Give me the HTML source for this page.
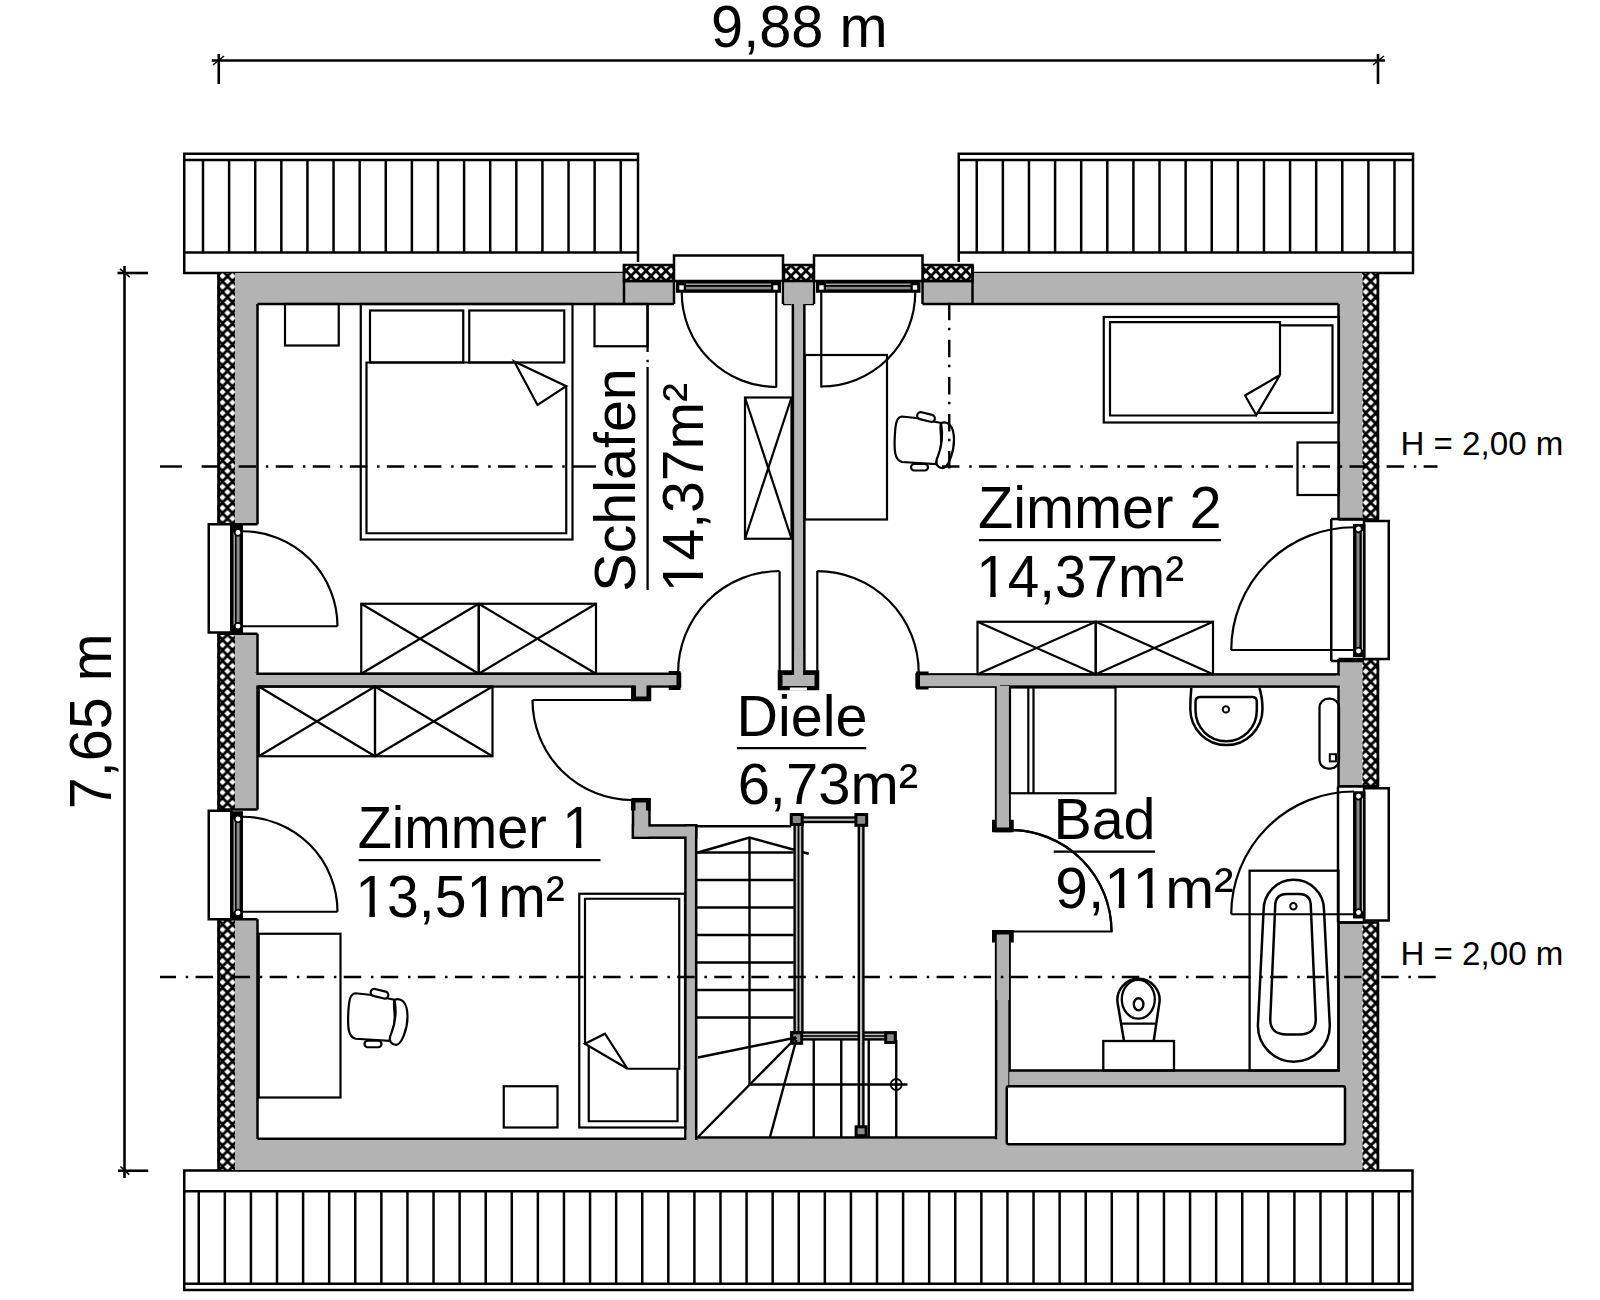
<!DOCTYPE html>
<html><head><meta charset="utf-8"><style>
html,body{margin:0;padding:0;background:#fff;width:1600px;height:1300px;overflow:hidden}
svg{display:block}
text{font-family:"Liberation Sans",sans-serif;fill:#000;stroke:none}
</style></head><body>
<svg width="1600" height="1300" viewBox="0 0 1600 1300" stroke="#000" fill="none" stroke-linecap="butt">
<defs>
<pattern id="hatch" patternUnits="userSpaceOnUse" x="222.5" y="265.5" width="10" height="10.54">
<rect width="10" height="10.54" fill="#000" stroke="none"/>
<path d="M5,2.07 L8.15,5.27 L5,8.47 L1.85,5.27 Z M0,-3.20 L3.15,0 L0,3.20 L-3.15,0 Z M10,-3.20 L13.15,0 L10,3.20 L6.85,0 Z M0,7.34 L3.15,10.54 L0,13.74 L-3.15,10.54 Z M10,7.34 L13.15,10.54 L10,13.74 L6.85,10.54 Z" fill="#fff" stroke="none"/>
</pattern>
<pattern id="hatchR" patternUnits="userSpaceOnUse" x="1370.7" y="265.5" width="10" height="10.54">
<rect width="10" height="10.54" fill="#000" stroke="none"/>
<path d="M5,2.07 L8.15,5.27 L5,8.47 L1.85,5.27 Z M0,-3.20 L3.15,0 L0,3.20 L-3.15,0 Z M10,-3.20 L13.15,0 L10,3.20 L6.85,0 Z M0,7.34 L3.15,10.54 L0,13.74 L-3.15,10.54 Z M10,7.34 L13.15,10.54 L10,13.74 L6.85,10.54 Z" fill="#fff" stroke="none"/>
</pattern>
<pattern id="hatchT" patternUnits="userSpaceOnUse" x="626" y="265.5" width="10" height="10.54">
<rect width="10" height="10.54" fill="#000" stroke="none"/>
<path d="M5,2.07 L8.15,5.27 L5,8.47 L1.85,5.27 Z M0,-3.20 L3.15,0 L0,3.20 L-3.15,0 Z M10,-3.20 L13.15,0 L10,3.20 L6.85,0 Z M0,7.34 L3.15,10.54 L0,13.74 L-3.15,10.54 Z M10,7.34 L13.15,10.54 L10,13.74 L6.85,10.54 Z" fill="#fff" stroke="none"/>
</pattern>
</defs>
<line x1="211.75" y1="60.5" x2="1385" y2="60.5" stroke-width="2.6" />
<line x1="218.75" y1="54" x2="218.75" y2="84" stroke-width="2.6" />
<line x1="1378" y1="54" x2="1378" y2="84" stroke-width="2.6" />
<line x1="213" y1="65" x2="224" y2="56" stroke-width="1.6" />
<line x1="1373" y1="65" x2="1384" y2="56" stroke-width="1.6" />
<line x1="124.5" y1="266" x2="124.5" y2="1178" stroke-width="2.6" />
<line x1="117.5" y1="273" x2="148" y2="273" stroke-width="2.6" />
<line x1="118" y1="1170.75" x2="148.25" y2="1170.75" stroke-width="2.6" />
<line x1="120" y1="268.8" x2="129.75" y2="277.1" stroke-width="1.6" />
<line x1="120.4" y1="1166.5" x2="129.2" y2="1174.6" stroke-width="1.6" />
<rect x="184.25" y="153.75" width="453.75" height="119.25" fill="#fff" stroke-width="2.5" />
<line x1="184.25" y1="160" x2="638" y2="160" stroke-width="2.5" />
<line x1="184.25" y1="252.5" x2="638" y2="252.5" stroke-width="2.5" />
<line x1="203.0" y1="160" x2="203.0" y2="252.5" stroke-width="2.5" />
<line x1="229.11" y1="160" x2="229.11" y2="252.5" stroke-width="2.5" />
<line x1="255.22" y1="160" x2="255.22" y2="252.5" stroke-width="2.5" />
<line x1="281.33" y1="160" x2="281.33" y2="252.5" stroke-width="2.5" />
<line x1="307.44" y1="160" x2="307.44" y2="252.5" stroke-width="2.5" />
<line x1="333.55" y1="160" x2="333.55" y2="252.5" stroke-width="2.5" />
<line x1="359.65999999999997" y1="160" x2="359.65999999999997" y2="252.5" stroke-width="2.5" />
<line x1="385.77" y1="160" x2="385.77" y2="252.5" stroke-width="2.5" />
<line x1="411.88" y1="160" x2="411.88" y2="252.5" stroke-width="2.5" />
<line x1="437.99" y1="160" x2="437.99" y2="252.5" stroke-width="2.5" />
<line x1="464.1" y1="160" x2="464.1" y2="252.5" stroke-width="2.5" />
<line x1="490.21" y1="160" x2="490.21" y2="252.5" stroke-width="2.5" />
<line x1="516.3199999999999" y1="160" x2="516.3199999999999" y2="252.5" stroke-width="2.5" />
<line x1="542.4300000000001" y1="160" x2="542.4300000000001" y2="252.5" stroke-width="2.5" />
<line x1="568.54" y1="160" x2="568.54" y2="252.5" stroke-width="2.5" />
<line x1="594.65" y1="160" x2="594.65" y2="252.5" stroke-width="2.5" />
<line x1="620.76" y1="160" x2="620.76" y2="252.5" stroke-width="2.5" />
<rect x="958.75" y="153.75" width="454.25" height="119.25" fill="#fff" stroke-width="2.5" />
<line x1="958.75" y1="160" x2="1413" y2="160" stroke-width="2.5" />
<line x1="958.75" y1="252.5" x2="1413" y2="252.5" stroke-width="2.5" />
<line x1="976.75" y1="160" x2="976.75" y2="252.5" stroke-width="2.5" />
<line x1="1002.86" y1="160" x2="1002.86" y2="252.5" stroke-width="2.5" />
<line x1="1028.97" y1="160" x2="1028.97" y2="252.5" stroke-width="2.5" />
<line x1="1055.08" y1="160" x2="1055.08" y2="252.5" stroke-width="2.5" />
<line x1="1081.19" y1="160" x2="1081.19" y2="252.5" stroke-width="2.5" />
<line x1="1107.3" y1="160" x2="1107.3" y2="252.5" stroke-width="2.5" />
<line x1="1133.41" y1="160" x2="1133.41" y2="252.5" stroke-width="2.5" />
<line x1="1159.52" y1="160" x2="1159.52" y2="252.5" stroke-width="2.5" />
<line x1="1185.63" y1="160" x2="1185.63" y2="252.5" stroke-width="2.5" />
<line x1="1211.74" y1="160" x2="1211.74" y2="252.5" stroke-width="2.5" />
<line x1="1237.85" y1="160" x2="1237.85" y2="252.5" stroke-width="2.5" />
<line x1="1263.96" y1="160" x2="1263.96" y2="252.5" stroke-width="2.5" />
<line x1="1290.07" y1="160" x2="1290.07" y2="252.5" stroke-width="2.5" />
<line x1="1316.18" y1="160" x2="1316.18" y2="252.5" stroke-width="2.5" />
<line x1="1342.29" y1="160" x2="1342.29" y2="252.5" stroke-width="2.5" />
<line x1="1368.4" y1="160" x2="1368.4" y2="252.5" stroke-width="2.5" />
<line x1="1394.51" y1="160" x2="1394.51" y2="252.5" stroke-width="2.5" />
<rect x="184.25" y="1170.5" width="1228.25" height="119.50" fill="#fff" stroke-width="2.5" />
<line x1="184.25" y1="1191.25" x2="1412.5" y2="1191.25" stroke-width="2.5" />
<line x1="184.25" y1="1283.75" x2="1412.5" y2="1283.75" stroke-width="2.5" />
<line x1="198.75" y1="1191.25" x2="198.75" y2="1283.75" stroke-width="2.5" />
<line x1="224.837" y1="1191.25" x2="224.837" y2="1283.75" stroke-width="2.5" />
<line x1="250.924" y1="1191.25" x2="250.924" y2="1283.75" stroke-width="2.5" />
<line x1="277.01099999999997" y1="1191.25" x2="277.01099999999997" y2="1283.75" stroke-width="2.5" />
<line x1="303.098" y1="1191.25" x2="303.098" y2="1283.75" stroke-width="2.5" />
<line x1="329.185" y1="1191.25" x2="329.185" y2="1283.75" stroke-width="2.5" />
<line x1="355.272" y1="1191.25" x2="355.272" y2="1283.75" stroke-width="2.5" />
<line x1="381.35900000000004" y1="1191.25" x2="381.35900000000004" y2="1283.75" stroke-width="2.5" />
<line x1="407.446" y1="1191.25" x2="407.446" y2="1283.75" stroke-width="2.5" />
<line x1="433.533" y1="1191.25" x2="433.533" y2="1283.75" stroke-width="2.5" />
<line x1="459.62" y1="1191.25" x2="459.62" y2="1283.75" stroke-width="2.5" />
<line x1="485.707" y1="1191.25" x2="485.707" y2="1283.75" stroke-width="2.5" />
<line x1="511.794" y1="1191.25" x2="511.794" y2="1283.75" stroke-width="2.5" />
<line x1="537.881" y1="1191.25" x2="537.881" y2="1283.75" stroke-width="2.5" />
<line x1="563.9680000000001" y1="1191.25" x2="563.9680000000001" y2="1283.75" stroke-width="2.5" />
<line x1="590.0550000000001" y1="1191.25" x2="590.0550000000001" y2="1283.75" stroke-width="2.5" />
<line x1="616.142" y1="1191.25" x2="616.142" y2="1283.75" stroke-width="2.5" />
<line x1="642.229" y1="1191.25" x2="642.229" y2="1283.75" stroke-width="2.5" />
<line x1="668.316" y1="1191.25" x2="668.316" y2="1283.75" stroke-width="2.5" />
<line x1="694.403" y1="1191.25" x2="694.403" y2="1283.75" stroke-width="2.5" />
<line x1="720.49" y1="1191.25" x2="720.49" y2="1283.75" stroke-width="2.5" />
<line x1="746.577" y1="1191.25" x2="746.577" y2="1283.75" stroke-width="2.5" />
<line x1="772.664" y1="1191.25" x2="772.664" y2="1283.75" stroke-width="2.5" />
<line x1="798.751" y1="1191.25" x2="798.751" y2="1283.75" stroke-width="2.5" />
<line x1="824.838" y1="1191.25" x2="824.838" y2="1283.75" stroke-width="2.5" />
<line x1="850.925" y1="1191.25" x2="850.925" y2="1283.75" stroke-width="2.5" />
<line x1="877.012" y1="1191.25" x2="877.012" y2="1283.75" stroke-width="2.5" />
<line x1="903.099" y1="1191.25" x2="903.099" y2="1283.75" stroke-width="2.5" />
<line x1="929.186" y1="1191.25" x2="929.186" y2="1283.75" stroke-width="2.5" />
<line x1="955.273" y1="1191.25" x2="955.273" y2="1283.75" stroke-width="2.5" />
<line x1="981.36" y1="1191.25" x2="981.36" y2="1283.75" stroke-width="2.5" />
<line x1="1007.447" y1="1191.25" x2="1007.447" y2="1283.75" stroke-width="2.5" />
<line x1="1033.534" y1="1191.25" x2="1033.534" y2="1283.75" stroke-width="2.5" />
<line x1="1059.621" y1="1191.25" x2="1059.621" y2="1283.75" stroke-width="2.5" />
<line x1="1085.708" y1="1191.25" x2="1085.708" y2="1283.75" stroke-width="2.5" />
<line x1="1111.795" y1="1191.25" x2="1111.795" y2="1283.75" stroke-width="2.5" />
<line x1="1137.882" y1="1191.25" x2="1137.882" y2="1283.75" stroke-width="2.5" />
<line x1="1163.969" y1="1191.25" x2="1163.969" y2="1283.75" stroke-width="2.5" />
<line x1="1190.056" y1="1191.25" x2="1190.056" y2="1283.75" stroke-width="2.5" />
<line x1="1216.143" y1="1191.25" x2="1216.143" y2="1283.75" stroke-width="2.5" />
<line x1="1242.23" y1="1191.25" x2="1242.23" y2="1283.75" stroke-width="2.5" />
<line x1="1268.317" y1="1191.25" x2="1268.317" y2="1283.75" stroke-width="2.5" />
<line x1="1294.404" y1="1191.25" x2="1294.404" y2="1283.75" stroke-width="2.5" />
<line x1="1320.491" y1="1191.25" x2="1320.491" y2="1283.75" stroke-width="2.5" />
<line x1="1346.578" y1="1191.25" x2="1346.578" y2="1283.75" stroke-width="2.5" />
<line x1="1372.665" y1="1191.25" x2="1372.665" y2="1283.75" stroke-width="2.5" />
<line x1="1398.752" y1="1191.25" x2="1398.752" y2="1283.75" stroke-width="2.5" />
<path d="M235,273 H1362 V1170 H235 Z M257.5,304 V1138.75 H1338.5 V304 Z" fill="#b3b3b3" stroke-width="0" fill-rule="evenodd" stroke="none"/>
<rect x="217.5" y="273" width="17.50" height="251.25" fill="url(#hatch)" stroke="none"/>
<rect x="217.5" y="633.75" width="17.50" height="175.75" fill="url(#hatch)" stroke="none"/>
<rect x="217.5" y="919.25" width="17.50" height="250.75" fill="url(#hatch)" stroke="none"/>
<rect x="1362.4" y="273" width="16.60" height="246.50" fill="url(#hatchR)" stroke="none"/>
<rect x="1362.4" y="659" width="16.60" height="127.25" fill="url(#hatchR)" stroke="none"/>
<rect x="1362.4" y="922.5" width="16.60" height="247.50" fill="url(#hatchR)" stroke="none"/>
<rect x="624" y="262" width="348.50" height="19.00" fill="#fff" stroke="none"/>
<rect x="674" y="262" width="109.00" height="43.50" fill="#fff" stroke="none"/>
<rect x="814" y="262" width="108.50" height="43.50" fill="#fff" stroke="none"/>
<rect x="624" y="265" width="50.00" height="16.00" fill="url(#hatchT)" stroke="none"/>
<rect x="624" y="265" width="50.00" height="16.00" fill="none" stroke-width="2.5" />
<rect x="784" y="265" width="30.00" height="16.00" fill="url(#hatchT)" stroke="none"/>
<rect x="784" y="265" width="30.00" height="16.00" fill="none" stroke-width="2.5" />
<rect x="922.5" y="265" width="50.00" height="16.00" fill="url(#hatchT)" stroke="none"/>
<rect x="922.5" y="265" width="50.00" height="16.00" fill="none" stroke-width="2.5" />
<line x1="624" y1="265" x2="624" y2="304" stroke-width="2.5" />
<line x1="972.5" y1="265" x2="972.5" y2="304" stroke-width="2.5" />
<rect x="205" y="524.25" width="54.00" height="109.50" fill="#fff" stroke="none"/>
<rect x="205" y="809.5" width="54.00" height="109.75" fill="#fff" stroke="none"/>
<rect x="1337" y="519.5" width="55.00" height="139.50" fill="#fff" stroke="none"/>
<rect x="1337" y="786.25" width="55.00" height="136.25" fill="#fff" stroke="none"/>
<line x1="218.6" y1="273" x2="218.6" y2="524.25" stroke-width="2.8" />
<line x1="217.5" y1="524.25" x2="257.5" y2="524.25" stroke-width="2.5" />
<line x1="218.6" y1="633.75" x2="218.6" y2="809.5" stroke-width="2.8" />
<line x1="217.5" y1="633.75" x2="257.5" y2="633.75" stroke-width="2.5" />
<line x1="217.5" y1="809.5" x2="257.5" y2="809.5" stroke-width="2.5" />
<line x1="218.6" y1="919.25" x2="218.6" y2="1170" stroke-width="2.8" />
<line x1="217.5" y1="919.25" x2="257.5" y2="919.25" stroke-width="2.5" />
<line x1="1377.9" y1="273" x2="1377.9" y2="519.5" stroke-width="2.8" />
<line x1="1338.5" y1="519.5" x2="1379" y2="519.5" stroke-width="2.5" />
<line x1="1377.9" y1="659" x2="1377.9" y2="786.25" stroke-width="2.8" />
<line x1="1338.5" y1="659" x2="1379" y2="659" stroke-width="2.5" />
<line x1="1338.5" y1="786.25" x2="1379" y2="786.25" stroke-width="2.5" />
<line x1="1377.9" y1="922.5" x2="1377.9" y2="1170" stroke-width="2.8" />
<line x1="1338.5" y1="922.5" x2="1379" y2="922.5" stroke-width="2.5" />
<line x1="257.5" y1="304" x2="257.5" y2="524.25" stroke-width="2.5" />
<line x1="257.5" y1="633.75" x2="257.5" y2="809.5" stroke-width="2.5" />
<line x1="257.5" y1="919.25" x2="257.5" y2="1138.75" stroke-width="2.5" />
<line x1="1338.5" y1="304" x2="1338.5" y2="519.5" stroke-width="2.5" />
<line x1="1338.5" y1="659" x2="1338.5" y2="786.25" stroke-width="2.5" />
<line x1="1338.5" y1="922.5" x2="1338.5" y2="1070.5" stroke-width="2.5" />
<line x1="257.5" y1="304" x2="674" y2="304" stroke-width="2.5" />
<line x1="674" y1="281" x2="674" y2="304" stroke-width="2.5" />
<line x1="783" y1="281" x2="783" y2="304" stroke-width="2.5" />
<line x1="783" y1="304" x2="791.5" y2="304" stroke-width="2.5" />
<line x1="805" y1="304" x2="814" y2="304" stroke-width="2.5" />
<line x1="814" y1="281" x2="814" y2="304" stroke-width="2.5" />
<line x1="922.5" y1="281" x2="922.5" y2="304" stroke-width="2.5" />
<line x1="922.5" y1="304" x2="1338.5" y2="304" stroke-width="2.5" />
<line x1="257.5" y1="1138.75" x2="685.4" y2="1138.75" stroke-width="2.5" />
<line x1="696.2" y1="1137.5" x2="997.3" y2="1137.5" stroke-width="2.5" />
<rect x="674" y="255.5" width="109.00" height="25.50" fill="#fff" stroke-width="2.5" />
<rect x="676" y="280" width="105.00" height="12.80" fill="#000" stroke="none"/>
<rect x="686" y="283.6" width="85.00" height="1.20" fill="#c8c8c8" stroke="none"/>
<rect x="686" y="286.8" width="85.00" height="2.60" fill="#8a8a8a" stroke="none"/>
<rect x="678.5" y="284.5" width="6.00" height="6.00" fill="#fff" stroke-width="1.6" />
<rect x="772.5" y="284.5" width="6.00" height="6.00" fill="#fff" stroke-width="1.6" />
<rect x="814" y="255.5" width="108.50" height="25.50" fill="#fff" stroke-width="2.5" />
<rect x="816" y="280" width="104.50" height="12.80" fill="#000" stroke="none"/>
<rect x="826" y="283.6" width="84.50" height="1.20" fill="#c8c8c8" stroke="none"/>
<rect x="826" y="286.8" width="84.50" height="2.60" fill="#8a8a8a" stroke="none"/>
<rect x="818.5" y="284.5" width="6.00" height="6.00" fill="#fff" stroke-width="1.6" />
<rect x="912.0" y="284.5" width="6.00" height="6.00" fill="#fff" stroke-width="1.6" />
<rect x="208.75" y="524.25" width="22.50" height="108.25" fill="#fff" stroke-width="2.5" />
<rect x="230.5" y="524.75" width="12.50" height="108.25" fill="#000" stroke="none"/>
<rect x="233.6" y="532.25" width="1.20" height="93.25" fill="#c8c8c8" stroke="none"/>
<rect x="236.6" y="532.25" width="3.00" height="93.25" fill="#8a8a8a" stroke="none"/>
<circle cx="238" cy="532.45" r="3.3" fill="#fff" stroke-width="1.7"/>
<circle cx="238" cy="626.1" r="3.3" fill="#fff" stroke-width="1.7"/>
<rect x="208.75" y="810.75" width="22.50" height="108.50" fill="#fff" stroke-width="2.5" />
<rect x="230.5" y="811.25" width="12.50" height="108.50" fill="#000" stroke="none"/>
<rect x="233.6" y="818.75" width="1.20" height="93.50" fill="#c8c8c8" stroke="none"/>
<rect x="236.6" y="818.75" width="3.00" height="93.50" fill="#8a8a8a" stroke="none"/>
<circle cx="238" cy="818.95" r="3.3" fill="#fff" stroke-width="1.7"/>
<circle cx="238" cy="912.85" r="3.3" fill="#fff" stroke-width="1.7"/>
<rect x="1364" y="521" width="24.75" height="138.00" fill="#fff" stroke-width="2.5" />
<line x1="1331.25" y1="519" x2="1331.25" y2="661" stroke-width="2.5" />
<line x1="1331.25" y1="519" x2="1364" y2="519" stroke-width="2.5" />
<line x1="1331.25" y1="661" x2="1364" y2="661" stroke-width="2.5" />
<rect x="1353" y="524" width="12.50" height="133.00" fill="#000" stroke="none"/>
<rect x="1361.8" y="531" width="1.20" height="119.00" fill="#c8c8c8" stroke="none"/>
<rect x="1356.5" y="531" width="3.00" height="119.00" fill="#8a8a8a" stroke="none"/>
<circle cx="1358.5" cy="529" r="3.3" fill="#fff" stroke-width="1.7"/>
<circle cx="1358.5" cy="651" r="3.3" fill="#fff" stroke-width="1.7"/>
<rect x="1364" y="788.25" width="24.75" height="132.25" fill="#fff" stroke-width="2.5" />
<line x1="1338" y1="786.25" x2="1338" y2="922.5" stroke-width="2.5" />
<line x1="1338" y1="786.25" x2="1364" y2="786.25" stroke-width="2.5" />
<line x1="1338" y1="922.5" x2="1364" y2="922.5" stroke-width="2.5" />
<rect x="1353" y="791.25" width="12.50" height="127.25" fill="#000" stroke="none"/>
<rect x="1361.8" y="798.25" width="1.20" height="113.25" fill="#c8c8c8" stroke="none"/>
<rect x="1356.5" y="798.25" width="3.00" height="113.25" fill="#8a8a8a" stroke="none"/>
<circle cx="1358.5" cy="796.25" r="3.3" fill="#fff" stroke-width="1.7"/>
<circle cx="1358.5" cy="912.5" r="3.3" fill="#fff" stroke-width="1.7"/>
<rect x="791.6" y="294.75" width="14.00" height="386.50" fill="#000" stroke="none"/>
<rect x="777.75" y="670.25" width="41.50" height="20.00" fill="#000" stroke="none"/>
<rect x="254.75" y="672.5" width="426.50" height="15.25" fill="#000" stroke="none"/>
<rect x="631.05" y="682.75" width="20.20" height="18.50" fill="#000" stroke="none"/>
<rect x="631.75" y="797.95" width="19.00" height="41.00" fill="#000" stroke="none"/>
<rect x="631.75" y="824.15" width="65.70" height="14.80" fill="#000" stroke="none"/>
<rect x="684.15" y="824.15" width="13.30" height="317.10" fill="#000" stroke="none"/>
<rect x="915.35" y="673.15" width="425.90" height="14.70" fill="#000" stroke="none"/>
<rect x="994.85" y="683.75" width="16.00" height="148.50" fill="#000" stroke="none"/>
<rect x="992.0" y="819.75" width="21.75" height="12.50" fill="#000" stroke="none"/>
<rect x="994.85" y="930.0" width="16.00" height="211.25" fill="#000" stroke="none"/>
<rect x="992.0" y="930.0" width="21.75" height="12.50" fill="#000" stroke="none"/>
<rect x="1006.75" y="1069.25" width="334.50" height="18.25" fill="#000" stroke="none"/>
<rect x="794.1" y="297.25" width="9.00" height="381.50" fill="#b3b3b3" stroke="none"/>
<rect x="780.25" y="672.75" width="36.50" height="15.00" fill="#b3b3b3" stroke="none"/>
<rect x="257.25" y="675.0" width="421.50" height="10.25" fill="#b3b3b3" stroke="none"/>
<rect x="633.55" y="685.25" width="15.20" height="13.50" fill="#b3b3b3" stroke="none"/>
<rect x="634.25" y="800.45" width="14.00" height="36.00" fill="#b3b3b3" stroke="none"/>
<rect x="634.25" y="826.65" width="60.70" height="9.80" fill="#b3b3b3" stroke="none"/>
<rect x="686.65" y="826.65" width="8.30" height="312.10" fill="#b3b3b3" stroke="none"/>
<rect x="917.85" y="675.65" width="420.90" height="9.70" fill="#b3b3b3" stroke="none"/>
<rect x="997.35" y="686.25" width="11.00" height="143.50" fill="#b3b3b3" stroke="none"/>
<rect x="994.5" y="822.25" width="16.75" height="7.50" fill="#b3b3b3" stroke="none"/>
<rect x="997.35" y="932.5" width="11.00" height="206.25" fill="#b3b3b3" stroke="none"/>
<rect x="994.5" y="932.5" width="16.75" height="7.50" fill="#b3b3b3" stroke="none"/>
<rect x="1009.25" y="1071.75" width="329.50" height="13.25" fill="#b3b3b3" stroke="none"/>
<rect x="794.1" y="281" width="9.00" height="25.00" fill="#b3b3b3" stroke="none"/>
<rect x="784.25" y="282.25" width="28.50" height="21.75" fill="#b3b3b3" stroke="none"/>
<rect x="250" y="675" width="9.00" height="10.25" fill="#b3b3b3" stroke="none"/>
<rect x="1336" y="675.65" width="9.00" height="9.70" fill="#b3b3b3" stroke="none"/>
<rect x="1339.8" y="672" width="5.20" height="17.00" fill="#b3b3b3" stroke="none"/>
<rect x="1339.8" y="1069" width="5.20" height="18.50" fill="#b3b3b3" stroke="none"/>
<rect x="250" y="672.5" width="6.25" height="15.50" fill="#b3b3b3" stroke="none"/>
<rect x="686.6" y="1130" width="8.40" height="15.00" fill="#b3b3b3" stroke="none"/>
<rect x="997.4" y="1130" width="10.95" height="15.00" fill="#b3b3b3" stroke="none"/>
<rect x="994" y="1139.2" width="14.35" height="5.80" fill="#b3b3b3" stroke="none"/>
<rect x="684" y="1140" width="13.50" height="5.00" fill="#b3b3b3" stroke="none"/>
<rect x="1336" y="1071.75" width="9.00" height="13.25" fill="#b3b3b3" stroke="none"/>
<rect x="668.7" y="671" width="11.80" height="19.00" fill="#000" stroke="none"/>
<rect x="256" y="675" width="420.50" height="10.25" fill="#b3b3b3" stroke="none"/>
<rect x="631.8" y="685.5" width="18.70" height="15.00" fill="#000" stroke="none"/>
<rect x="636" y="684" width="10.50" height="12.50" fill="#b3b3b3" stroke="none"/>
<rect x="631" y="798.7" width="19.50" height="11.80" fill="#000" stroke="none"/>
<rect x="635.5" y="802.5" width="10.50" height="27.50" fill="#b3b3b3" stroke="none"/>
<rect x="778.5" y="671" width="40.00" height="19.00" fill="#000" stroke="none"/>
<rect x="782.5" y="675" width="32.00" height="11.00" fill="#b3b3b3" stroke="none"/>
<rect x="794.1" y="650" width="9.00" height="36.00" fill="#b3b3b3" stroke="none"/>
<rect x="789.8" y="687.5" width="17.10" height="3.00" fill="#fff" stroke="none"/>
<rect x="916.1" y="671.5" width="12.40" height="18.00" fill="#000" stroke="none"/>
<rect x="920" y="675.25" width="80.00" height="11.00" fill="#b3b3b3" stroke="none"/>
<rect x="992.75" y="820.5" width="20.25" height="11.00" fill="#000" stroke="none"/>
<rect x="996.75" y="686" width="12.25" height="141.50" fill="#b3b3b3" stroke="none"/>
<rect x="992.75" y="930.75" width="20.25" height="11.00" fill="#000" stroke="none"/>
<rect x="996.75" y="934.5" width="12.25" height="65.50" fill="#b3b3b3" stroke="none"/>
<line x1="624" y1="281" x2="674" y2="281" stroke-width="2.5" />
<line x1="783.75" y1="281" x2="814" y2="281" stroke-width="2.5" />
<line x1="922.5" y1="281" x2="972.5" y2="281" stroke-width="2.5" />
<rect x="1006.75" y="1086.25" width="338.25" height="58.00" fill="#fff" stroke-width="2.5" rx="2"/>
<line x1="776.25" y1="292" x2="776.25" y2="387.5" stroke-width="2.2" />
<path d="M776.25,387.00 A94.5,94.5 0 0 1 681.75,292.50" fill="none" stroke-width="2.2" />
<line x1="821.25" y1="292" x2="821.25" y2="387.5" stroke-width="2.2" />
<path d="M915.25,292.50 A94,94 0 0 1 821.25,386.50" fill="none" stroke-width="2.2" />
<line x1="779.6" y1="571.25" x2="779.6" y2="672.5" stroke-width="2.2" />
<path d="M678.10,672.50 A101.5,101.5 0 0 1 779.60,571.00" fill="none" stroke-width="2.2" />
<line x1="817.3" y1="571" x2="817.3" y2="672.5" stroke-width="2.2" />
<path d="M817.30,571.10 A101.4,101.4 0 0 1 918.70,672.50" fill="none" stroke-width="2.2" />
<line x1="532.5" y1="700" x2="632.5" y2="700" stroke-width="2.2" />
<path d="M632.50,800.00 A100,100 0 0 1 532.50,700.00" fill="none" stroke-width="2.2" />
<line x1="1010" y1="931.5" x2="1112.5" y2="931.5" stroke-width="2.2" />
<path d="M1010.00,830.00 A101.5,101.5 0 0 1 1111.50,931.50" fill="none" stroke-width="2.2" />
<line x1="242.5" y1="626.25" x2="337.5" y2="626.25" stroke-width="2.2" />
<path d="M242.50,531.25 A95,95 0 0 1 337.50,626.25" fill="none" stroke-width="2.2" />
<line x1="242.5" y1="911.75" x2="337.5" y2="911.75" stroke-width="2.2" />
<path d="M242.50,816.75 A95,95 0 0 1 337.50,911.75" fill="none" stroke-width="2.2" />
<line x1="1231.25" y1="650" x2="1354" y2="650" stroke-width="2.2" />
<path d="M1231.25,650.00 A122.75,122.75 0 0 1 1354.00,527.25" fill="none" stroke-width="2.2" />
<line x1="1231.25" y1="914.25" x2="1354" y2="914.25" stroke-width="2.2" />
<path d="M1231.25,914.25 A122.75,122.75 0 0 1 1354.00,791.50" fill="none" stroke-width="2.2" />
<rect x="285" y="304" width="53.75" height="41.50" fill="none" stroke-width="2.2" />
<rect x="594.5" y="304" width="53.00" height="42.25" fill="none" stroke-width="2.2" />
<rect x="360.75" y="304" width="211.75" height="235.50" fill="none" stroke-width="2.2" />
<rect x="370" y="310.5" width="93.25" height="52.00" fill="none" stroke-width="2.2" />
<rect x="469.25" y="310.5" width="95.00" height="52.00" fill="none" stroke-width="2.2" />
<path d="M514.25,362.5 H366.5 V533.25 H566.25 V386.25" fill="none" stroke-width="2.2" />
<path d="M514.25,361.5 L566.25,386.25 L537.5,405 Z" fill="none" stroke-width="2.2" />
<rect x="361.25" y="603.75" width="117.50" height="70.00" fill="none" stroke-width="2.2" />
<line x1="361.25" y1="603.75" x2="478.75" y2="673.75" stroke-width="2.2" />
<line x1="361.25" y1="673.75" x2="478.75" y2="603.75" stroke-width="2.2" />
<rect x="478.75" y="603.75" width="117.25" height="70.00" fill="none" stroke-width="2.2" />
<line x1="478.75" y1="603.75" x2="596" y2="673.75" stroke-width="2.2" />
<line x1="478.75" y1="673.75" x2="596" y2="603.75" stroke-width="2.2" />
<rect x="745" y="397.5" width="46.50" height="141.25" fill="none" stroke-width="2.2" />
<line x1="745" y1="397.5" x2="791.5" y2="538.75" stroke-width="2.2" />
<line x1="745" y1="538.75" x2="791.5" y2="397.5" stroke-width="2.2" />
<line x1="647.6" y1="304" x2="647.6" y2="352" stroke-width="2.3" />
<line x1="647.6" y1="359.8" x2="647.6" y2="362.3" stroke-width="2.3" />
<line x1="647.6" y1="367" x2="647.6" y2="590" stroke-width="2.3" />
<rect x="805" y="355" width="82.00" height="164.50" fill="none" stroke-width="2.2" />
<rect x="1103.75" y="317" width="235.25" height="105.50" fill="none" stroke-width="2.2" />
<path d="M1256.5,415.5 H1110 V322.2 H1280 V375" fill="none" stroke-width="2.2" />
<path d="M1280,325.3 H1332.5 V412.8 H1257" fill="none" stroke-width="2.2" />
<path d="M1280,375 L1245,395.5 L1256.25,415 Z" fill="none" stroke-width="2.2" />
<rect x="1297.5" y="442.5" width="41.50" height="52.50" fill="none" stroke-width="2.2" />
<rect x="977.5" y="621.75" width="118.25" height="52.50" fill="none" stroke-width="2.2" />
<line x1="977.5" y1="621.75" x2="1095.75" y2="674.25" stroke-width="2.2" />
<line x1="977.5" y1="674.25" x2="1095.75" y2="621.75" stroke-width="2.2" />
<rect x="1095.75" y="621.75" width="117.25" height="52.50" fill="none" stroke-width="2.2" />
<line x1="1095.75" y1="621.75" x2="1213" y2="674.25" stroke-width="2.2" />
<line x1="1095.75" y1="674.25" x2="1213" y2="621.75" stroke-width="2.2" />
<g transform="translate(894,412)"><path d="M8,4.5 C3,5 1.5,10 0.8,24 C0,40 1,48 8,50 L42,52 C45,44 48,36 47,24 C46.5,18 46,14 47,11 L22,6 Z" fill="#fff" stroke-width="2.2"/><rect x="23" y="1.5" width="18" height="7" rx="3.5" transform="rotate(14 32 5)" fill="#fff" stroke-width="2.2"/><rect x="17" y="52" width="17" height="6.5" rx="3.2" fill="#fff" stroke-width="2.2"/><path d="M47,11 C53,9 60,12 60,28 C60,40 54,57 48,56 C42,55 41,50 44,44 C48,34 49,22 47,11 Z" fill="#fff" stroke-width="2.2"/></g>
<rect x="258.75" y="686.5" width="116.25" height="69.75" fill="none" stroke-width="2.2" />
<line x1="258.75" y1="686.5" x2="375" y2="756.25" stroke-width="2.2" />
<line x1="258.75" y1="756.25" x2="375" y2="686.5" stroke-width="2.2" />
<rect x="375" y="686.5" width="117.50" height="69.75" fill="none" stroke-width="2.2" />
<line x1="375" y1="686.5" x2="492.5" y2="756.25" stroke-width="2.2" />
<line x1="375" y1="756.25" x2="492.5" y2="686.5" stroke-width="2.2" />
<rect x="258.75" y="933.75" width="81.75" height="163.75" fill="none" stroke-width="2.2" />
<g transform="translate(347.5,988.75)"><path d="M8,4.5 C3,5 1.5,10 0.8,24 C0,40 1,48 8,50 L42,52 C45,44 48,36 47,24 C46.5,18 46,14 47,11 L22,6 Z" fill="#fff" stroke-width="2.2"/><rect x="23" y="1.5" width="18" height="7" rx="3.5" transform="rotate(14 32 5)" fill="#fff" stroke-width="2.2"/><rect x="17" y="52" width="17" height="6.5" rx="3.2" fill="#fff" stroke-width="2.2"/><path d="M47,11 C53,9 60,12 60,28 C60,40 54,57 48,56 C42,55 41,50 44,44 C48,34 49,22 47,11 Z" fill="#fff" stroke-width="2.2"/></g>
<rect x="503.75" y="1086.25" width="53.75" height="41.25" fill="none" stroke-width="2.2" />
<rect x="579.25" y="893.75" width="105.75" height="233.75" fill="none" stroke-width="2.2" />
<path d="M585,1043.75 V898.75 H679.25 V1068.75 H627.5" fill="none" stroke-width="2.2" />
<path d="M585,1043.75 L605,1033.75 L627.5,1068.75 Z" fill="none" stroke-width="2.2" />
<path d="M588.75,1046 V1121.25 H677.5 V1068.75" fill="none" stroke-width="2.2" />
<line x1="696.2" y1="826.25" x2="791.25" y2="826.25" stroke-width="2.4" />
<line x1="697" y1="852.5" x2="793.75" y2="852.5" stroke-width="2.4" />
<line x1="697" y1="880" x2="793.75" y2="880" stroke-width="2.4" />
<line x1="697" y1="907.5" x2="793.75" y2="907.5" stroke-width="2.4" />
<line x1="697" y1="935" x2="793.75" y2="935" stroke-width="2.4" />
<line x1="697" y1="962.5" x2="793.75" y2="962.5" stroke-width="2.4" />
<line x1="697" y1="990" x2="793.75" y2="990" stroke-width="2.4" />
<line x1="697" y1="1017.5" x2="793.75" y2="1017.5" stroke-width="2.4" />
<line x1="749.5" y1="837.5" x2="749.5" y2="1084.5" stroke-width="2.4" />
<path d="M698,852.5 L749.5,837.5 L808.75,853.75" fill="none" stroke-width="2.4" />
<rect x="793.4" y="813" width="10.20" height="227.00" fill="#000" stroke="none"/>
<rect x="795.8" y="815.4" width="5.40" height="222.20" fill="#bdbdbd" stroke="none"/>
<rect x="797.6" y="816" width="1.80" height="221.00" fill="#000" stroke="none"/>
<rect x="790.25" y="816.3" width="77.75" height="6.90" fill="#000" stroke="none"/>
<rect x="792.65" y="818.6999999999999" width="72.95" height="2.10" fill="#bdbdbd" stroke="none"/>
<rect x="790.25" y="1031.3" width="106.45" height="9.30" fill="#000" stroke="none"/>
<rect x="792.65" y="1033.7" width="101.65" height="4.50" fill="#bdbdbd" stroke="none"/>
<rect x="793" y="1035.2" width="100.00" height="1.60" fill="#000" stroke="none"/>
<rect x="857.6" y="813" width="7.00" height="324.20" fill="#000" stroke="none"/>
<rect x="860.0" y="815.4" width="2.20" height="319.40" fill="#bdbdbd" stroke="none"/>
<rect x="789.75" y="813" width="13.85" height="13.00" fill="#000" stroke="none"/>
<rect x="792.75" y="816" width="7.85" height="7.00" fill="#8a8a8a" stroke="none"/>
<rect x="854.4" y="813" width="13.80" height="13.80" fill="#000" stroke="none"/>
<rect x="857.4" y="816" width="7.80" height="7.80" fill="#8a8a8a" stroke="none"/>
<rect x="790.25" y="1031.3" width="12.95" height="13.50" fill="#000" stroke="none"/>
<rect x="793.25" y="1034.3" width="6.95" height="7.50" fill="#8a8a8a" stroke="none"/>
<rect x="884.2" y="1031.3" width="12.50" height="12.70" fill="#000" stroke="none"/>
<rect x="887.2" y="1034.3" width="6.50" height="6.70" fill="#8a8a8a" stroke="none"/>
<rect x="854.6" y="1125.3" width="13.00" height="11.90" fill="#000" stroke="none"/>
<rect x="857.6" y="1128.3" width="7.00" height="5.90" fill="#8a8a8a" stroke="none"/>
<line x1="796.25" y1="1037.5" x2="698" y2="1057.5" stroke-width="2.4" />
<line x1="796.25" y1="1037.5" x2="698" y2="1137" stroke-width="2.4" />
<line x1="796.25" y1="1040" x2="770" y2="1137" stroke-width="2.4" />
<line x1="813.75" y1="1040" x2="813.75" y2="1137.5" stroke-width="2.4" />
<line x1="841.25" y1="1040" x2="841.25" y2="1137.5" stroke-width="2.4" />
<line x1="868.75" y1="1040" x2="868.75" y2="1137.5" stroke-width="2.4" />
<line x1="896.25" y1="1040" x2="896.25" y2="1137.5" stroke-width="2.4" />
<line x1="749.5" y1="1084.5" x2="907.5" y2="1084.5" stroke-width="2.4" />
<circle cx="896.25" cy="1084.5" r="5.5" fill="none" stroke-width="1.8"/>
<line x1="896.25" y1="1077" x2="896.25" y2="1092" stroke-width="1.4" />
<rect x="1010" y="687.5" width="105.50" height="105.75" fill="none" stroke-width="2.2" />
<line x1="1028.3" y1="687.5" x2="1028.3" y2="793.25" stroke-width="2.2" />
<line x1="1033.5" y1="687.5" x2="1033.5" y2="793.25" stroke-width="2.2" />
<path d="M1191.3,688 C1190.5,696 1190.3,701 1190.3,709 A36.1,36.1 0 0 0 1262.5,709 C1262.5,701 1262,696 1259.4,688" fill="none" stroke-width="2.5" />
<path d="M1200,697 H1252.5 Q1256.8,697 1256.8,702 V710.6 A30.65,30.65 0 0 1 1195.5,710.6 V702 Q1195.5,697 1200,697 Z" fill="none" stroke-width="2.5" />
<circle cx="1225.9" cy="709.4" r="3.2" fill="none" stroke-width="2"/>
<rect x="1319.5" y="698.6" width="19.50" height="70.10" fill="none" stroke-width="2.3" rx="9"/>
<rect x="1329.8" y="754.2" width="6.20" height="7.20" fill="#fff" stroke-width="2" />
<rect x="1249.6" y="870.7" width="88.90" height="199.80" fill="none" stroke-width="2.3" />
<path d="M1263.6,910 A30.2,30.2 0 0 1 1324,910 L1329.8,1025.7 A35.95,35.95 0 0 1 1257.9,1025.7 Z" fill="none" stroke-width="2.5" />
<path d="M1287,893.9 H1299 Q1310.8,893.9 1310.8,906 L1315.7,1018 Q1316.5,1034.4 1299,1034.4 H1287 Q1269.5,1034.4 1270.3,1018 L1275.2,906 Q1275.2,893.9 1287,893.9 Z" fill="none" stroke-width="2.5" />
<circle cx="1293.4" cy="906.3" r="3.2" fill="none" stroke-width="2"/>
<rect x="1103.3" y="1041" width="70.70" height="29.50" fill="none" stroke-width="2.3" />
<path d="M1124,1041 L1117.8,1004 A21.1,21.1 0 1 1 1159.2,1004 L1153.7,1041" fill="none" stroke-width="2.5" />
<ellipse cx="1138.3" cy="999.3" rx="16.5" ry="19.4" fill="none" stroke-width="2.3"/>
<line x1="1121.5" y1="1023.7" x2="1155" y2="1023.7" stroke-width="2.3" />
<ellipse cx="1138.6" cy="1004.2" rx="4.8" ry="6" fill="none" stroke-width="2.4"/>
<line x1="160" y1="466.5" x2="182" y2="466.5" stroke-width="2.4" />
<line x1="201.6" y1="466.5" x2="573" y2="466.5" stroke-width="2.4" stroke-dasharray="17.5,9.7,2.5,7.35"/>
<line x1="573" y1="466.5" x2="596" y2="466.5" stroke-width="2.4" />
<line x1="942" y1="466.5" x2="1437.5" y2="466.5" stroke-width="2.4" stroke-dasharray="17.5,9.7,2.5,7.35"/>
<line x1="160" y1="977" x2="1437.5" y2="977" stroke-width="2.4" stroke-dasharray="17.5,9.7,2.5,7.35" stroke-dashoffset="1.5"/>
<line x1="949.25" y1="468.5" x2="949.25" y2="302" stroke-width="2.4" stroke-dasharray="17.5,9.7,2.5,7.35"/>
<text x="711.04" y="46.90" font-size="59.2" textLength="176.53" lengthAdjust="spacingAndGlyphs" >9,88 m</text>
<text transform="translate(110.80,809.13) rotate(-90)" x="0" y="0" font-size="59.3" textLength="175.73" lengthAdjust="spacingAndGlyphs" >7,65 m</text>
<text transform="translate(634.90,591.64) rotate(-90)" x="0" y="0" font-size="57.2" textLength="223.41" lengthAdjust="spacingAndGlyphs" >Schlafen</text>
<text transform="translate(703.20,592.34) rotate(-90)" x="0" y="0" font-size="57.7" textLength="209.45" lengthAdjust="spacingAndGlyphs" >14,37m²</text>
<text x="977.90" y="527.90" font-size="59" textLength="243.59" lengthAdjust="spacingAndGlyphs" >Zimmer 2</text>
<line x1="978.9" y1="540.1" x2="1221" y2="540.1" stroke-width="2.4" />
<text x="976.30" y="596.70" font-size="59.5" textLength="207.71" lengthAdjust="spacingAndGlyphs" >14,37m²</text>
<text x="736.54" y="735.60" font-size="58.2" textLength="130.98" lengthAdjust="spacingAndGlyphs" >Diele</text>
<line x1="736.9" y1="748.1" x2="866.25" y2="748.1" stroke-width="2.4" />
<text x="737.64" y="803.80" font-size="57.8" textLength="180.38" lengthAdjust="spacingAndGlyphs" >6,73m²</text>
<text x="357.82" y="847.60" font-size="58.7" textLength="235.43" lengthAdjust="spacingAndGlyphs" >Zimmer 1</text>
<line x1="358.7" y1="860.1" x2="600.5" y2="860.1" stroke-width="2.4" />
<text x="355.26" y="916.80" font-size="59.2" textLength="209.61" lengthAdjust="spacingAndGlyphs" >13,51m²</text>
<text x="1053.39" y="839.40" font-size="58.2" textLength="102.20" lengthAdjust="spacingAndGlyphs" >Bad</text>
<line x1="1053.75" y1="851.6" x2="1155" y2="851.6" stroke-width="2.4" />
<text x="1055.34" y="907.50" font-size="58.2" textLength="178.28" lengthAdjust="spacingAndGlyphs" >9,11m²</text>
<text x="1400.48" y="454.50" font-size="32.5" textLength="162.90" lengthAdjust="spacingAndGlyphs" >H = 2,00 m</text>
<text x="1400.48" y="965.00" font-size="32.5" textLength="162.90" lengthAdjust="spacingAndGlyphs" >H = 2,00 m</text>
<rect x="697.43" y="578.23" width="6.64" height="11.25" fill="#fff" stroke="none"/>
<rect x="697.43" y="562.07" width="6.64" height="10.68" fill="#fff" stroke="none"/>
<rect x="979.13" y="591.82" width="11.15" height="5.77" fill="#fff" stroke="none"/>
<rect x="995.72" y="591.82" width="10.59" height="5.77" fill="#fff" stroke="none"/>
<rect x="565.01" y="842.79" width="10.99" height="5.69" fill="#fff" stroke="none"/>
<rect x="581.35" y="842.79" width="10.43" height="5.69" fill="#fff" stroke="none"/>
<rect x="358.12" y="911.95" width="11.26" height="5.74" fill="#fff" stroke="none"/>
<rect x="374.86" y="911.95" width="10.69" height="5.74" fill="#fff" stroke="none"/>
<rect x="469.31" y="911.95" width="11.26" height="5.74" fill="#fff" stroke="none"/>
<rect x="486.05" y="911.95" width="10.69" height="5.74" fill="#fff" stroke="none"/>
<rect x="1107.2" y="902.73" width="11.56" height="5.64" fill="#fff" stroke="none"/>
<rect x="1124.4" y="902.73" width="10.97" height="5.64" fill="#fff" stroke="none"/>
<rect x="1135.49" y="902.73" width="11.56" height="5.64" fill="#fff" stroke="none"/>
<rect x="1152.68" y="902.73" width="10.98" height="5.64" fill="#fff" stroke="none"/>
<path d="M1010.00,830.00 A101.5,101.5 0 0 1 1111.50,931.50" fill="none" stroke-width="2.2" />
</svg>
</body></html>
